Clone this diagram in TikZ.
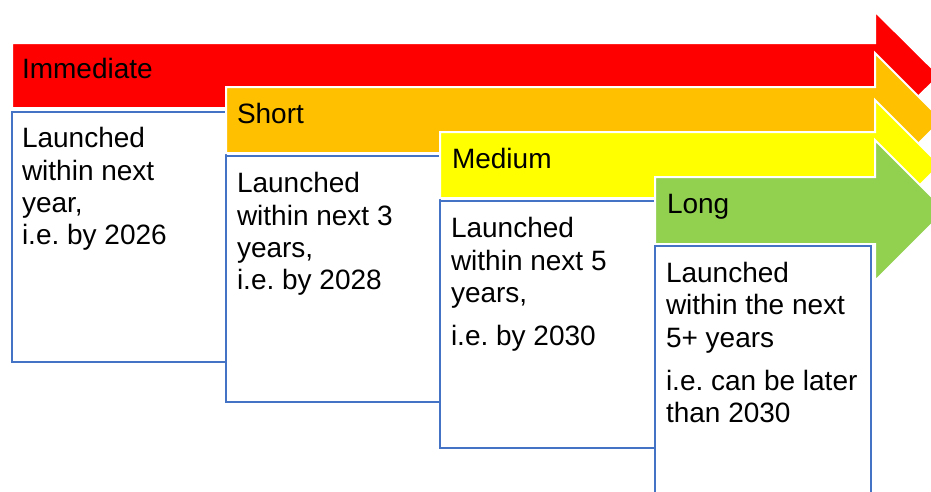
\documentclass[tikz,border=0pt]{standalone}
\usepackage{fontspec}
\setmainfont{Liberation Sans}
\frenchspacing
\definecolor{arrred}{HTML}{FF0000}
\definecolor{arrorange}{HTML}{FFC000}
\definecolor{arryellow}{HTML}{FFFF00}
\definecolor{arrgreen}{HTML}{92D050}
\definecolor{boxblue}{HTML}{4472C4}
\tikzset{
  arrowshape/.style={draw=white, line width=2pt, line join=miter},
  boxshape/.style={draw=boxblue, line width=2.2pt, fill=white},
  txt/.style={anchor=base west, inner sep=0pt, outer sep=0pt, font=\fontsize{28}{33}\selectfont\frenchspacing, text=black}
}
\begin{document}
\begin{tikzpicture}[x=1pt,y=-1pt]
\useasboundingbox (0,0) rectangle (931,491);
\clip (0,0) rectangle (931,491);
% Immediate
\path[arrowshape, fill=arrred] (12,43) -- (875,43) -- (875,11.5) -- (939.5,75.5) -- (875,139.5) -- (875,108) -- (12,108) -- cycle;
\path[boxshape] (12,112) rectangle (226,362);
% Short
\path[arrowshape, fill=arrorange] (226,87) -- (875,87) -- (875,53) -- (942,120) -- (875,187) -- (875,153) -- (226,153) -- cycle;
\path[boxshape] (226,156) rectangle (440,402);
% Medium
\path[arrowshape, fill=arryellow] (440,132) -- (875,132) -- (875,100) -- (940,165) -- (875,230) -- (875,198) -- (440,198) -- cycle;
\path[boxshape] (440,201) rectangle (655,448);
% Long
\path[arrowshape, fill=arrgreen] (655,177) -- (875,177) -- (875,140) -- (945.5,210.5) -- (875,281) -- (875,244) -- (655,244) -- cycle;
\path[boxshape] (655,246) rectangle (871,500);
% labels
\node[txt] (limm) at (22,78.5) {Immediate};
\node[txt] (lsho) at (237,123.5) {Short};
\node[txt] (lmed) at (452,168.5) {Medium};
\node[txt] (llon) at (667,213.5) {Long};
% box 1
\node[txt] (a1) at (22,147.5) {Launched};
\node[txt] (a2) at (22,180) {within next};
\node[txt] (a3) at (22,212.5) {year,};
\node[txt] (a4) at (22,244.5) {i.e. by 2026};
% box 2
\node[txt] (b1) at (237,192.5) {Launched};
\node[txt] (b2) at (237,225) {within next 3};
\node[txt] (b3) at (237,257.5) {years,};
\node[txt] (b4) at (237,289.5) {i.e. by 2028};
% box 3
\node[txt] (c1) at (451,237.5) {Launched};
\node[txt] (c2) at (451,270) {within next 5};
\node[txt] (c3) at (451,302.5) {years,};
\node[txt] (c4) at (451,345.5) {i.e. by 2030};
% box 4
\node[txt] (d1) at (666,282.5) {Launched};
\node[txt] (d2) at (666,314.5) {within the next};
\node[txt] (d3) at (666,347) {5+ years};
\node[txt] (d4) at (666,390) {i.e. can be later};
\node[txt] (d5) at (666,422) {than 2030};
\end{tikzpicture}
\end{document}
